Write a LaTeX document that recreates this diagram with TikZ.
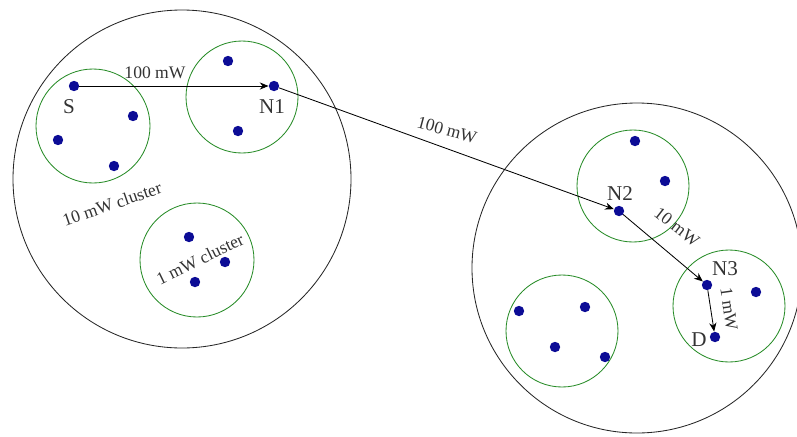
\documentclass[tikz,border=0pt]{standalone}
\usepackage{fontspec}
\setmainfont{Liberation Serif}
\usetikzlibrary{arrows.meta}
\definecolor{dotblue}{RGB}{12,12,150}
\definecolor{clustergreen}{RGB}{40,140,40}
\begin{document}
\begin{tikzpicture}[x=0.025cm, y=-0.025cm,
    region/.style={draw=black!85, line width=0.6pt},
    cluster/.style={draw=clustergreen, line width=0.6pt},
    dot/.style={circle, fill=dotblue, inner sep=0pt, minimum size=0.26cm},
    nodelabel/.style={font=\fontsize{15}{17}\selectfont, text=black!80},
    metric/.style={font=\fontsize{12.5}{14}\selectfont, text=black!80, inner sep=1pt},
    arrow/.style={-{Stealth[length=2.2mm, width=1.8mm]}, line width=0.6pt, black},
]
\useasboundingbox (0,0) rectangle (797,436);

% Regions
\draw[region] (182,179) circle[radius=169];
\draw[region] (637,268) circle[radius=165];

% Clusters
\draw[cluster] (93,126) circle[radius=57];
\draw[cluster] (242,97) circle[radius=56];
\draw[cluster] (197,260) circle[radius=57];
\draw[cluster] (633,186) circle[radius=56];
\draw[cluster] (729,306) circle[radius=56];
\draw[cluster] (562,331) circle[radius=56];

% Nodes, left region
\node[dot] (s) at (74,86) {};
\node[dot] (a1) at (133,116) {};
\node[dot] (a2) at (58,140) {};
\node[dot] (a3) at (114,166) {};
\node[dot] (n1) at (274,86) {};
\node[dot] (b1) at (228,61) {};
\node[dot] (b2) at (238,131) {};
\node[dot] (c1) at (189,237) {};
\node[dot] (c2) at (225,262) {};
\node[dot] (c3) at (195,282) {};

% Nodes, right region
\node[dot] (n2) at (619,211) {};
\node[dot] (d1) at (635,141) {};
\node[dot] (d2) at (665,181) {};
\node[dot] (n3) at (707,285) {};
\node[dot] (e1) at (756,292) {};
\node[dot] (dst) at (715,337) {};
\node[dot] (f1) at (519,311) {};
\node[dot] (f2) at (585,307) {};
\node[dot] (f3) at (555,347) {};
\node[dot] (f4) at (605,357) {};

% Node names
\node[nodelabel] (ls) at (69,107) {S};
\node[nodelabel] (ln1) at (272,107) {N1};
\node[nodelabel] (ln2) at (620,194) {N2};
\node[nodelabel] (ln3) at (725,269) {N3};
\node[nodelabel] (ld) at (699,340) {D};

% Route
\draw[arrow] (s) -- (n1);
\draw[arrow] (n1) -- (n2);
\draw[arrow] (n2) -- (n3);
\draw[arrow] (n3) -- (dst);

% Power labels
\node[metric] (p1) at (155,73) {100 mW};
\node[metric, rotate=-15] (p2) at (447,130) {100 mW};
\node[metric, rotate=-38] (p3) at (677,227) {10 mW};
\node[metric, rotate=-82] (p4) at (729,309) {1 mW};
\node[metric, rotate=19] (p5) at (112,204) {10 mW cluster};
\node[metric, rotate=26] (p6) at (200,259) {1 mW cluster};

\end{tikzpicture}
\end{document}
